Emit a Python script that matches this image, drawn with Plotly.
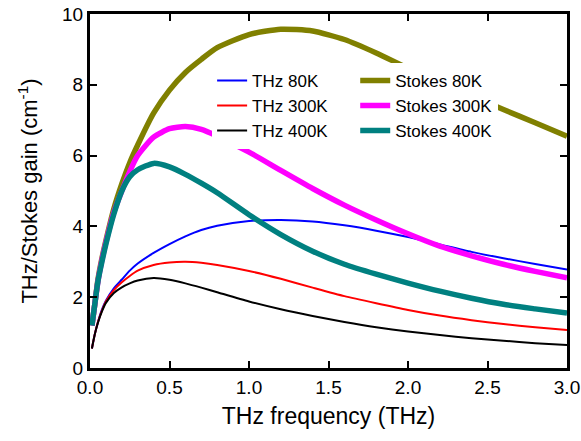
import plotly.graph_objects as go

freq = [0.012, 0.03, 0.05, 0.075, 0.1, 0.15, 0.2, 0.25, 0.3, 0.4, 0.5, 0.6, 0.7, 0.8,
        1.0, 1.2, 1.4, 1.6, 1.8, 2.0, 2.2, 2.4, 2.6, 2.8, 3.0]

thz_80k = [0.55, 0.95, 1.3, 1.65, 1.9, 2.25, 2.5, 2.75, 2.95, 3.25, 3.5, 3.72, 3.9, 4.02,
           4.15, 4.18, 4.14, 4.03, 3.88, 3.7, 3.49, 3.28, 3.1, 2.94, 2.78]
thz_300k = [0.55, 0.95, 1.3, 1.62, 1.88, 2.2, 2.42, 2.6, 2.75, 2.91, 2.98, 3.0, 2.97, 2.91,
            2.74, 2.52, 2.27, 2.03, 1.83, 1.64, 1.48, 1.35, 1.24, 1.15, 1.07]
thz_400k = [0.55, 0.95, 1.28, 1.6, 1.84, 2.12, 2.28, 2.39, 2.47, 2.54, 2.49, 2.39, 2.27, 2.14,
            1.88, 1.66, 1.47, 1.3, 1.15, 1.03, 0.93, 0.84, 0.77, 0.7, 0.65]
stokes_80k = [1.2, 1.8, 2.5, 3.1, 3.6, 4.5, 5.2, 5.8, 6.3, 7.2, 7.85, 8.35, 8.72, 9.05,
              9.42, 9.57, 9.52, 9.28, 8.9, 8.47, 8.08, 7.69, 7.3, 6.93, 6.55]
stokes_300k = [1.2, 1.8, 2.45, 3.05, 3.55, 4.4, 5.0, 5.55, 6.0, 6.52, 6.76, 6.82, 6.74, 6.55,
               6.1, 5.58, 5.07, 4.6, 4.18, 3.79, 3.44, 3.17, 2.93, 2.73, 2.55]
stokes_400k = [1.2, 1.8, 2.45, 3.0, 3.5, 4.35, 5.0, 5.4, 5.6, 5.78, 5.68, 5.47, 5.22, 4.95,
               4.33, 3.77, 3.3, 2.93, 2.65, 2.4, 2.17, 1.97, 1.8, 1.67, 1.55]

x_ticks = [0.0, 0.5, 1.0, 1.5, 2.0, 2.5, 3.0]
y_ticks = [0, 2, 4, 6, 8, 10]

FONT = "Arial, 'Liberation Sans', sans-serif"

fig = go.Figure()
thin = [("THz 80K", thz_80k, "#0000FF"), ("THz 300K", thz_300k, "#FF0000"),
        ("THz 400K", thz_400k, "#000000")]
thick = [("Stokes 80K", stokes_80k, "#808000"), ("Stokes 300K", stokes_300k, "#FF00FF"),
         ("Stokes 400K", stokes_400k, "#008080")]
for name, ys, col in thin:
    fig.add_trace(go.Scatter(x=freq, y=ys, mode="lines", name=name,
                             line=dict(color=col, width=2, shape="spline", smoothing=0.6),
                             legend="legend"))
for name, ys, col in thick:
    fig.add_trace(go.Scatter(x=freq, y=ys, mode="lines", name=name,
                             line=dict(color=col, width=5.5, shape="spline", smoothing=0.6),
                             legend="legend2"))

axis_common = dict(showline=True, linecolor="black", linewidth=3, mirror="ticks",
                   ticks="inside", ticklen=7, tickwidth=2, tickcolor="black",
                   showgrid=False, zeroline=False, automargin=False,
                   tickfont=dict(family=FONT, size=19, color="black"))

fig.update_xaxes(range=[0, 3], tickvals=x_ticks, ticktext=[f"{v:.1f}" for v in x_ticks],
                 title=dict(text="THz frequency (THz)", font=dict(family=FONT, size=23, color="black"),
                            standoff=12),
                 **axis_common)
fig.update_yaxes(range=[0, 10], tickvals=y_ticks, ticktext=[str(v) for v in y_ticks],
                 title=dict(text="THz/Stokes gain (cm<sup>-1</sup>)",
                            font=dict(family=FONT, size=22, color="black"), standoff=19),
                 **axis_common)

leg_common = dict(bgcolor="white", borderwidth=0, font=dict(family=FONT, size=17, color="black"),
                  xanchor="left", yanchor="top", tracegroupgap=0, itemwidth=30)
fig.update_layout(
    width=581, height=441,
    margin=dict(l=90, r=14, t=14, b=73),
    paper_bgcolor="white", plot_bgcolor="white",
    legend=dict(x=0.256, y=0.862, **leg_common),
    legend2=dict(x=0.556, y=0.862, **leg_common),
)

fig.write_html("out.html")
